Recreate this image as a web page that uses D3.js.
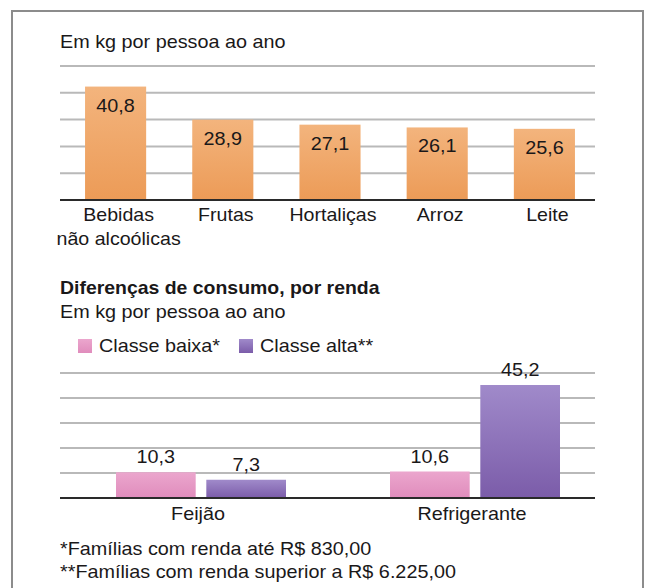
<!DOCTYPE html>
<html>
<head>
<meta charset="utf-8">
<script src="https://cdn.jsdelivr.net/npm/d3@7/dist/d3.min.js"></script>
<style>
    html, body { margin: 0; padding: 0; background: #fff; }
    text { font-family: 'Liberation Sans', Arial, sans-serif; fill: #1a1819; }
</style>
</head>
<body>
<div id="chart"></div>
<script>

// DATA

const food_categories = ['Bebidas\nnão alcoólicas', 'Frutas', 'Hortaliças', 'Arroz', 'Leite'];
const food_values = [40.8, 28.9, 27.1, 26.1, 25.6];

const income_categories = ['Feijão', 'Refrigerante'];
const income_classes = ['Classe baixa*', 'Classe alta**'];
const low_class_values = [10.3, 10.6];
const high_class_values = [7.3, 45.2];

const unit_label = 'Em kg por pessoa ao ano';
const income_title = 'Diferenças de consumo, por renda';
const footnotes = ['*Famílias com renda até R$ 830,00', '**Famílias com renda superior a R$ 6.225,00'];

//////////////////////////////////////////////

const draw_chart = () => {

    // CONFIG

    const width = 648,
        height = 588;

    const stretch = 1.1;   // the original lettering is wider than Arial
    const grid_left = 60,
        grid_right = 595;

    const fmt = (v) => v.toFixed(1).replace('.', ',');

    const svg = d3.select('#chart')
        .append('svg')
        .attr('width', width)
        .attr('height', height);

    const defs = svg.append('defs');

    const add_gradient = (id, top, bottom) => {
        const g = defs.append('linearGradient')
            .attr('id', id)
            .attr('x1', 0).attr('y1', 0)
            .attr('x2', 0).attr('y2', 1);
        g.append('stop').attr('offset', '0%').attr('stop-color', top);
        g.append('stop').attr('offset', '100%').attr('stop-color', bottom);
    }

    add_gradient('orange', '#f3b47d', '#ec9b57');
    add_gradient('pink', '#eba6cd', '#e08cbc');
    add_gradient('purple', '#a08aca', '#7b5ca9');

    const add_text = (x, y, txt, size = 18, anchor = 'start', weight = 'normal', sx = stretch) => {
        return svg.append('text')
            .attr('transform', `translate(${x},${y}) scale(${sx},1)`)
            .attr('text-anchor', anchor)
            .style('font-size', `${size}px`)
            .style('font-weight', weight)
            .text(txt);
    }

    // FRAME

    svg.append('rect')
        .attr('x', 12)
        .attr('y', 11)
        .attr('width', 631)
        .attr('height', 620)
        .attr('fill', 'none')
        .attr('stroke', '#8c8c8c')
        .attr('stroke-width', 2);

    // TOP CHART

    add_text(60, 48, unit_label);

    const top_base = 200,
        top_max = 48.2;

    const x_food = d3.scaleBand()
        .domain(food_categories)
        .range([62, 598])
        .paddingInner(0.43)
        .paddingOuter(0.215);

    const y_food = d3.scaleLinear()
        .domain([0, top_max])
        .range([top_base, 66]);

    const food_grid = d3.range(1, 6).map((i) => i * top_max / 5);

    svg.append('g')
        .selectAll('line')
        .data(food_grid)
        .enter()
        .append('line')
        .attr('x1', grid_left)
        .attr('x2', grid_right)
        .attr('y1', (d) => y_food(d))
        .attr('y2', (d) => y_food(d))
        .attr('stroke', '#b9b9b9')
        .attr('stroke-width', 2);

    svg.append('g')
        .selectAll('rect')
        .data(food_values)
        .enter()
        .append('rect')
        .attr('x', (d, i) => x_food(food_categories[i]))
        .attr('y', (d) => y_food(d))
        .attr('width', x_food.bandwidth())
        .attr('height', (d) => top_base - y_food(d))
        .attr('fill', 'url(#orange)');

    food_values.forEach((d, i) => {
        add_text(x_food(food_categories[i]) + x_food.bandwidth() / 2, y_food(d) + 25, fmt(d), 18, 'middle');
    });

    svg.append('line')
        .attr('x1', grid_left)
        .attr('x2', grid_right)
        .attr('y1', top_base)
        .attr('y2', top_base)
        .attr('stroke', '#2a2a2a')
        .attr('stroke-width', 2);

    food_categories.forEach((c) => {
        const t = add_text(x_food(c) + x_food.bandwidth() / 2 + 3, 221, null, 18.5, 'middle', 'normal', 1.06);
        c.split('\n').forEach((line, j) => {
            t.append('tspan')
                .attr('x', 0)
                .attr('dy', j === 0 ? 0 : 24)
                .text(line);
        });
    });

    // BOTTOM CHART

    add_text(60, 294, income_title, 18, 'start', 'bold', 1.08);
    add_text(60, 318, unit_label);

    const class_fills = ['url(#pink)', 'url(#purple)'];
    const legend_x = [78, 239];

    income_classes.forEach((c, i) => {
        svg.append('rect')
            .attr('x', legend_x[i])
            .attr('y', 339)
            .attr('width', 14)
            .attr('height', 14)
            .attr('fill', class_fills[i]);
        add_text(legend_x[i] + 21, 352, c);
    });

    const bottom_base = 498;

    const x_group = d3.scaleBand()
        .domain(income_categories)
        .range([64, 612]);

    const x_class = d3.scaleBand()
        .domain(income_classes)
        .range([0, 170])
        .paddingInner(0.1176);

    const y_income = d3.scaleLinear()
        .domain([0, 50])
        .range([bottom_base, 373]);

    svg.append('g')
        .selectAll('line')
        .data(y_income.ticks(5).filter((d) => d > 0))
        .enter()
        .append('line')
        .attr('x1', grid_left)
        .attr('x2', grid_right)
        .attr('y1', (d) => y_income(d))
        .attr('y2', (d) => y_income(d))
        .attr('stroke', '#b9b9b9')
        .attr('stroke-width', 2);

    const series = [low_class_values, high_class_values];

    income_categories.forEach((cat, ci) => {
        const group_x = x_group(cat) + (x_group.bandwidth() - 170) / 2;
        series.forEach((vals, si) => {
            const v = vals[ci];
            const bx = group_x + x_class(income_classes[si]);
            svg.append('rect')
                .attr('x', bx)
                .attr('y', y_income(v))
                .attr('width', x_class.bandwidth())
                .attr('height', bottom_base - y_income(v))
                .attr('fill', class_fills[si]);
            add_text(bx + x_class.bandwidth() / 2, y_income(v) - 9, fmt(v), 18, 'middle');
        });
        add_text(x_group(cat) + x_group.bandwidth() / 2 - 3, 520, cat, 18, 'middle');
    });

    svg.append('line')
        .attr('x1', grid_left)
        .attr('x2', grid_right)
        .attr('y1', bottom_base)
        .attr('y2', bottom_base)
        .attr('stroke', '#2a2a2a')
        .attr('stroke-width', 2);

    // FOOTNOTES

    footnotes.forEach((f, i) => {
        add_text(60, 555 + i * 23, f);
    });
}

draw_chart();

</script>
</body>
</html>
